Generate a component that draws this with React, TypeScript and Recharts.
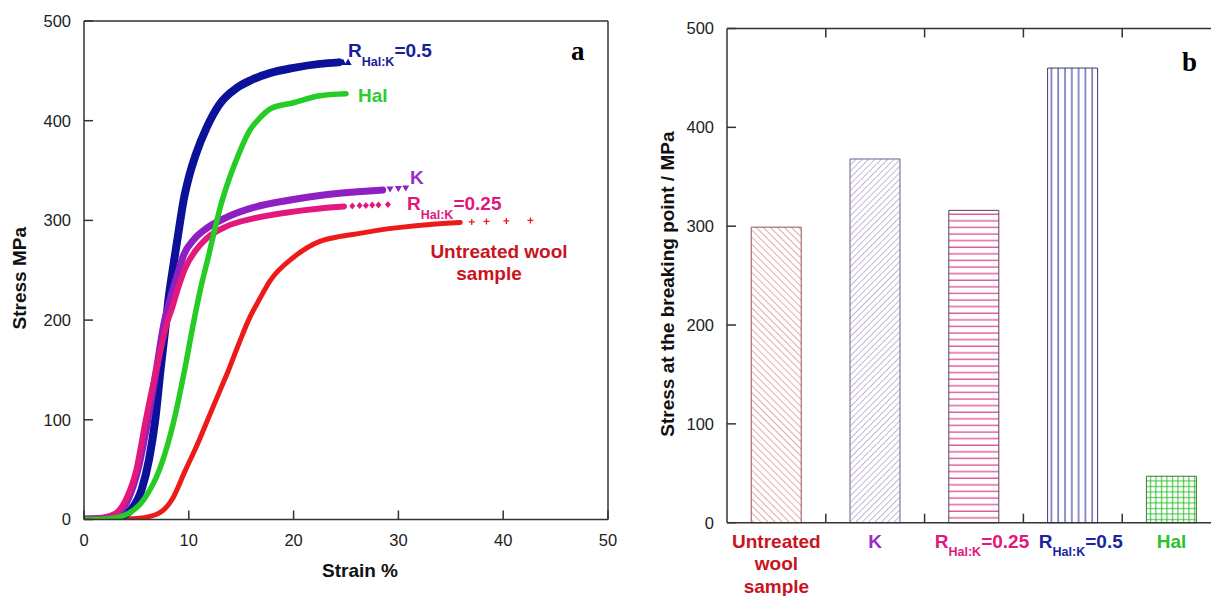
import React from 'react';
import { ComposedChart, Line, Scatter, XAxis, YAxis, Label, BarChart, Bar, Cell } from 'recharts';

// panel a: strain (%) vs stress (MPa)
const untreatedCurve = [[0, 0], [3, 0], [5, 1], [6.9, 5], [8.4, 20], [9.7, 50], [10.8, 75], [11.8, 100], [13, 130], [13.8, 150], [14.8, 177], [15.7, 200], [16.8, 222], [17.8, 240], [20, 263], [22.5, 279], [24.5, 284], [26.3, 287], [28, 290], [30.2, 293], [33, 296], [35.9, 298]];
const untreatedTail = [[37, 298.5], [38.4, 299], [40.3, 299.5], [42.6, 300]];
const kCurve = [[0, 0], [1.5, 1], [3, 5], [4.2, 20], [5.15, 50], [6.1, 100], [6.9, 150], [7.7, 200], [8.2, 220], [8.85, 243], [9.5, 265], [10.5, 281], [11.7, 292], [13.6, 303], [16.2, 313], [19.4, 320], [22.5, 325], [26.5, 329], [28.5, 330.5]];
const kTail = [[29.2, 331], [30, 331.5], [30.7, 332]];
const r025Curve = [[0, 0], [1.5, 1], [3, 6], [4, 20], [5, 50], [5.9, 100], [6.9, 150], [8, 200], [8.4, 212], [9, 233], [9.65, 252], [10.6, 269], [11.7, 282], [13.6, 294], [16.2, 302], [19.4, 308], [22.5, 312], [24.8, 314]];
const r025Tail = [[25.6, 314.5], [26.3, 315], [26.9, 315], [27.5, 315.5], [28.1, 315.5], [29, 316]];
const r05Curve = [[0, 0], [2, 0.5], [3.5, 3], [4.5, 10], [5.5, 30], [6.2, 60], [6.8, 100], [7.3, 150], [7.8, 195], [8.05, 220], [8.5, 253], [9, 287], [9.5, 320], [10, 343], [10.7, 367], [11.7, 393], [12.9, 416], [14.6, 433], [16, 441], [17.8, 448], [20, 453], [22.5, 457], [24.3, 458.5]];
const r05Tail = [[24.7, 459], [25.2, 459]];
const halCurve = [[0, 0], [2, 0.3], [3.8, 4], [5.7, 20], [7.2, 50], [8.6, 100], [9.6, 150], [10.5, 200], [11.2, 235], [11.9, 265], [12.5, 292], [13.1, 317], [13.9, 343], [14.9, 370], [15.8, 390], [16.8, 403], [17.8, 412], [20, 418], [22.5, 425], [25, 427]];

const strainTicks = [0, 10, 20, 30, 40, 50];
const stressTicks = [0, 100, 200, 300, 400, 500];

// panel b: stress at the breaking point
const samples = ['Untreated\nwool\nsample', 'K', 'R_Hal:K=0.25', 'R_Hal:K=0.5', 'Hal'];
const breakStress = [299, 368, 316, 460, 47];

const FONT = '"Liberation Sans", Arial, sans-serif';
const AXIS = '#333';

const toPts = (arr: number[][]) => arr.map(([x, y]) => ({ x, y }));

const curves = [
  { name: 'untreated', data: untreatedCurve, tail: untreatedTail, color: '#ee1a1a', width: 5, marker: 'plus' },
  { name: 'r05', data: r05Curve, tail: r05Tail, color: '#0c1199', width: 8, marker: 'up' },
  { name: 'k', data: kCurve, tail: kTail, color: '#8f1fc2', width: 7, marker: 'down' },
  { name: 'r025', data: r025Curve, tail: r025Tail, color: '#e3187c', width: 6, marker: 'diamond' },
  { name: 'hal', data: halCurve, tail: [] as number[][], color: '#25cc25', width: 5.5, marker: 'none' },
];

const markerShape = (kind: string, color: string) => (props: any) => {
  const { cx, cy } = props;
  if (cx == null || cy == null) return <g />;
  if (kind === 'plus') return <path d={`M${cx - 3},${cy}H${cx + 3}M${cx},${cy - 3}V${cy + 3}`} stroke={color} strokeWidth={1.3} />;
  if (kind === 'diamond') return <path d={`M${cx},${cy - 3.5}L${cx + 3},${cy}L${cx},${cy + 3.5}L${cx - 3},${cy}Z`} fill={color} />;
  if (kind === 'down') return <path d={`M${cx - 3.5},${cy - 3}L${cx + 3.5},${cy - 3}L${cx},${cy + 3}Z`} fill={color} />;
  return <path d={`M${cx - 3.5},${cy + 3}L${cx + 3.5},${cy + 3}L${cx},${cy - 3.5}Z`} fill={color} />;
};

const rich = (label: string, subSize: number, shift: number) => {
  const m = label.match(/^R_(.+?)(=.*)$/);
  if (!m) return label;
  return [
    <tspan key="r">R</tspan>,
    <tspan key="s" fontSize={subSize} dy={shift}>{m[1]}</tspan>,
    <tspan key="v" dy={-shift}>{m[2]}</tspan>,
  ];
};

const titleStyle = { fontFamily: FONT, fontWeight: 700, fontSize: 19, fill: '#111' };

const StressStrain = () => (
  <ComposedChart width={620} height={596} margin={{ top: 20, right: 11, bottom: 16.5, left: 0 }}>
    <XAxis type="number" dataKey="x" domain={[0, 50]} ticks={strainTicks} allowDataOverflow height={60}
      stroke={AXIS} strokeWidth={1.5} tickSize={-9} tickMargin={24}
      tick={{ fill: '#222', fontSize: 16.5, fontFamily: FONT }}>
      <Label content={({ viewBox }: any) => (
        <text x={viewBox.x + viewBox.width / 2 + 14} y={viewBox.y + 57} textAnchor="middle" style={titleStyle}>Strain %</text>
      )} />
    </XAxis>
    <XAxis xAxisId="top" orientation="top" type="number" domain={[0, 50]} ticks={strainTicks} height={1}
      stroke={AXIS} strokeWidth={1.5} tickSize={-9} tick={false} />
    <YAxis type="number" dataKey="y" domain={[0, 500]} ticks={stressTicks} allowDataOverflow width={84}
      stroke={AXIS} strokeWidth={1.5} tickSize={-9} tickMargin={22}
      tick={{ fill: '#222', fontSize: 16.5, fontFamily: FONT }}>
      <Label content={({ viewBox }: any) => {
        const cx = 19.5;
        const cy = viewBox.y + viewBox.height / 2 + 8;
        return <text x={cx} y={cy} transform={`rotate(-90 ${cx} ${cy})`} textAnchor="middle" dominantBaseline="central" style={titleStyle}>Stress MPa</text>;
      }} />
    </YAxis>
    <YAxis yAxisId="right" orientation="right" type="number" domain={[0, 500]} ticks={stressTicks} width={1}
      stroke={AXIS} strokeWidth={1.5} tickSize={-9} tick={false} />
    {curves.map((c) => (
      <Line key={c.name} data={toPts(c.data)} dataKey="y" type="monotone" stroke={c.color} strokeWidth={c.width}
        strokeLinecap="round" dot={false} isAnimationActive={false} />
    ))}
    {curves.filter((c) => c.tail.length).map((c) => (
      <Scatter key={c.name + '-tail'} data={toPts(c.tail)} dataKey="y" shape={markerShape(c.marker, c.color)} isAnimationActive={false} />
    ))}
  </ComposedChart>
);

const catColors = ['#c8141e', '#9a2cc8', '#e0187c', '#1a24a0', '#2cc02c'];
const patternIds = ['pUntreated', 'pK', 'pR025', 'pR05', 'pHal'];
const barEdges = ['#9a5050', '#6e5f86', '#5a4050', '#3c3c6a', '#3a7a3a'];

const CatTick = (props: any) => {
  const { x, y, payload, index } = props;
  const label: string = payload.value;
  const color = catColors[index] || '#222';
  const half = payload.offset || 49.4;
  const lines = label.split('\n');
  return (
    <g>
      {index < samples.length - 1 && <line x1={x + half} x2={x + half} y1={y} y2={y - 9} stroke={AXIS} strokeWidth={1.5} />}
      {lines.map((ln, i) => (
        <text key={i} x={x + (ln.startsWith('R_') ? 8 : 0)} y={y + 25 + i * 22.5} textAnchor="middle"
          style={{ fontFamily: FONT, fontWeight: 700, fontSize: 19, fill: color }}>
          {rich(ln, 12.5, 8)}
        </text>
      ))}
    </g>
  );
};

const EdgeTick = (props: any) => {
  const { x, y, payload, index } = props;
  const half = payload.offset || 49.4;
  if (index >= samples.length - 1) return <g />;
  return <line x1={x + half} x2={x + half} y1={y} y2={y + 9} stroke={AXIS} strokeWidth={1.5} />;
};

const barRows = samples.map((name, i) => ({ name, stress: breakStress[i] }));

const BreakingStress = () => (
  <BarChart width={620} height={596} data={barRows} margin={{ top: 27.5, right: 18, bottom: 0, left: 0 }} barCategoryGap="24.5%">
    <defs>
      <pattern id="pUntreated" width={5} height={5} patternUnits="userSpaceOnUse" patternTransform="rotate(-45)">
        <line x1={0} y1={0} x2={0} y2={5} stroke="#cc5a5a" strokeWidth={1} />
      </pattern>
      <pattern id="pK" width={4.5} height={4.5} patternUnits="userSpaceOnUse" patternTransform="rotate(45)">
        <line x1={0} y1={0} x2={0} y2={4.5} stroke="#8a74ac" strokeWidth={1} />
      </pattern>
      <pattern id="pR025" width={6} height={6.6} patternUnits="userSpaceOnUse">
        <line x1={0} y1={3} x2={6} y2={3} stroke="#d82a80" strokeWidth={1.1} />
      </pattern>
      <pattern id="pR05" width={6.8} height={6} patternUnits="userSpaceOnUse">
        <line x1={3} y1={0} x2={3} y2={6} stroke="#34349e" strokeWidth={1.1} />
      </pattern>
      <pattern id="pHal" width={5.5} height={5.5} patternUnits="userSpaceOnUse">
        <path d="M2.5,0V5.5M0,2.5H5.5" stroke="#2cc02c" strokeWidth={1} fill="none" />
      </pattern>
    </defs>
    <XAxis dataKey="name" height={73.3} interval={0} stroke={AXIS} strokeWidth={1.5} tickLine={false} tickSize={0} tickMargin={0}
      tick={(p: any) => <CatTick {...p} />} />
    <XAxis xAxisId="top" orientation="top" dataKey="name" height={1} interval={0} stroke={AXIS} strokeWidth={1.5}
      tickLine={false} tickSize={0} tickMargin={0} tick={(p: any) => <EdgeTick {...p} />} />
    <YAxis type="number" domain={[0, 500]} ticks={stressTicks} width={107} stroke={AXIS} strokeWidth={1.5}
      tickSize={-9} tickMargin={22} tick={{ fill: '#222', fontSize: 16.5, fontFamily: FONT }}>
      <Label content={({ viewBox }: any) => {
        const cx = 48;
        const cy = viewBox.y + viewBox.height / 2 + 8.5;
        return <text x={cx} y={cy} transform={`rotate(-90 ${cx} ${cy})`} textAnchor="middle" dominantBaseline="central" style={titleStyle}>Stress at the breaking point / MPa</text>;
      }} />
    </YAxis>
    <YAxis yAxisId="right" orientation="right" type="number" domain={[0, 500]} ticks={stressTicks} width={1}
      stroke={AXIS} strokeWidth={1.5} tickSize={-9} tick={false} />
    <Bar dataKey="stress" isAnimationActive={false} strokeWidth={1}>
      {barRows.map((r, i) => <Cell key={r.name} fill={`url(#${patternIds[i]})`} stroke={barEdges[i]} />)}
    </Bar>
  </BarChart>
);

const curveLabel = { fontFamily: FONT, fontWeight: 700, fontSize: 19 };

export default function App() {
  return (
    <div style={{ position: 'absolute', left: 0, top: 0, width: 1211, height: 596, overflow: 'hidden', background: '#fff' }}>
      <div style={{ position: 'absolute', left: 0, top: 0 }}>
        <StressStrain />
      </div>
      <div style={{ position: 'absolute', left: 620, top: 0 }}>
        <BreakingStress />
      </div>
      <svg width={1211} height={596} style={{ position: 'absolute', left: 0, top: 0, pointerEvents: 'none' }}>
        <text x={348} y={57} style={{ ...curveLabel, fill: '#16209a' }}>{rich('R_Hal:K=0.5', 12.5, 9)}</text>
        <text x={358} y={102} style={{ ...curveLabel, fill: '#2ccc2c' }}>Hal</text>
        <text x={410} y={184} style={{ ...curveLabel, fill: '#9a2cc8' }}>K</text>
        <text x={407} y={210} style={{ ...curveLabel, fill: '#e0187c' }}>{rich('R_Hal:K=0.25', 12.5, 9)}</text>
        <text x={499} y={258} textAnchor="middle" style={{ ...curveLabel, fill: '#c8141e' }}>Untreated wool</text>
        <text x={489} y={280} textAnchor="middle" style={{ ...curveLabel, fill: '#c8141e' }}>sample</text>
        <text x={571} y={60} style={{ fontFamily: '"Liberation Serif", serif', fontWeight: 700, fontSize: 27, fill: '#000' }}>a</text>
        <text x={1182} y={71} style={{ fontFamily: '"Liberation Serif", serif', fontWeight: 700, fontSize: 27, fill: '#000' }}>b</text>
      </svg>
    </div>
  );
}
